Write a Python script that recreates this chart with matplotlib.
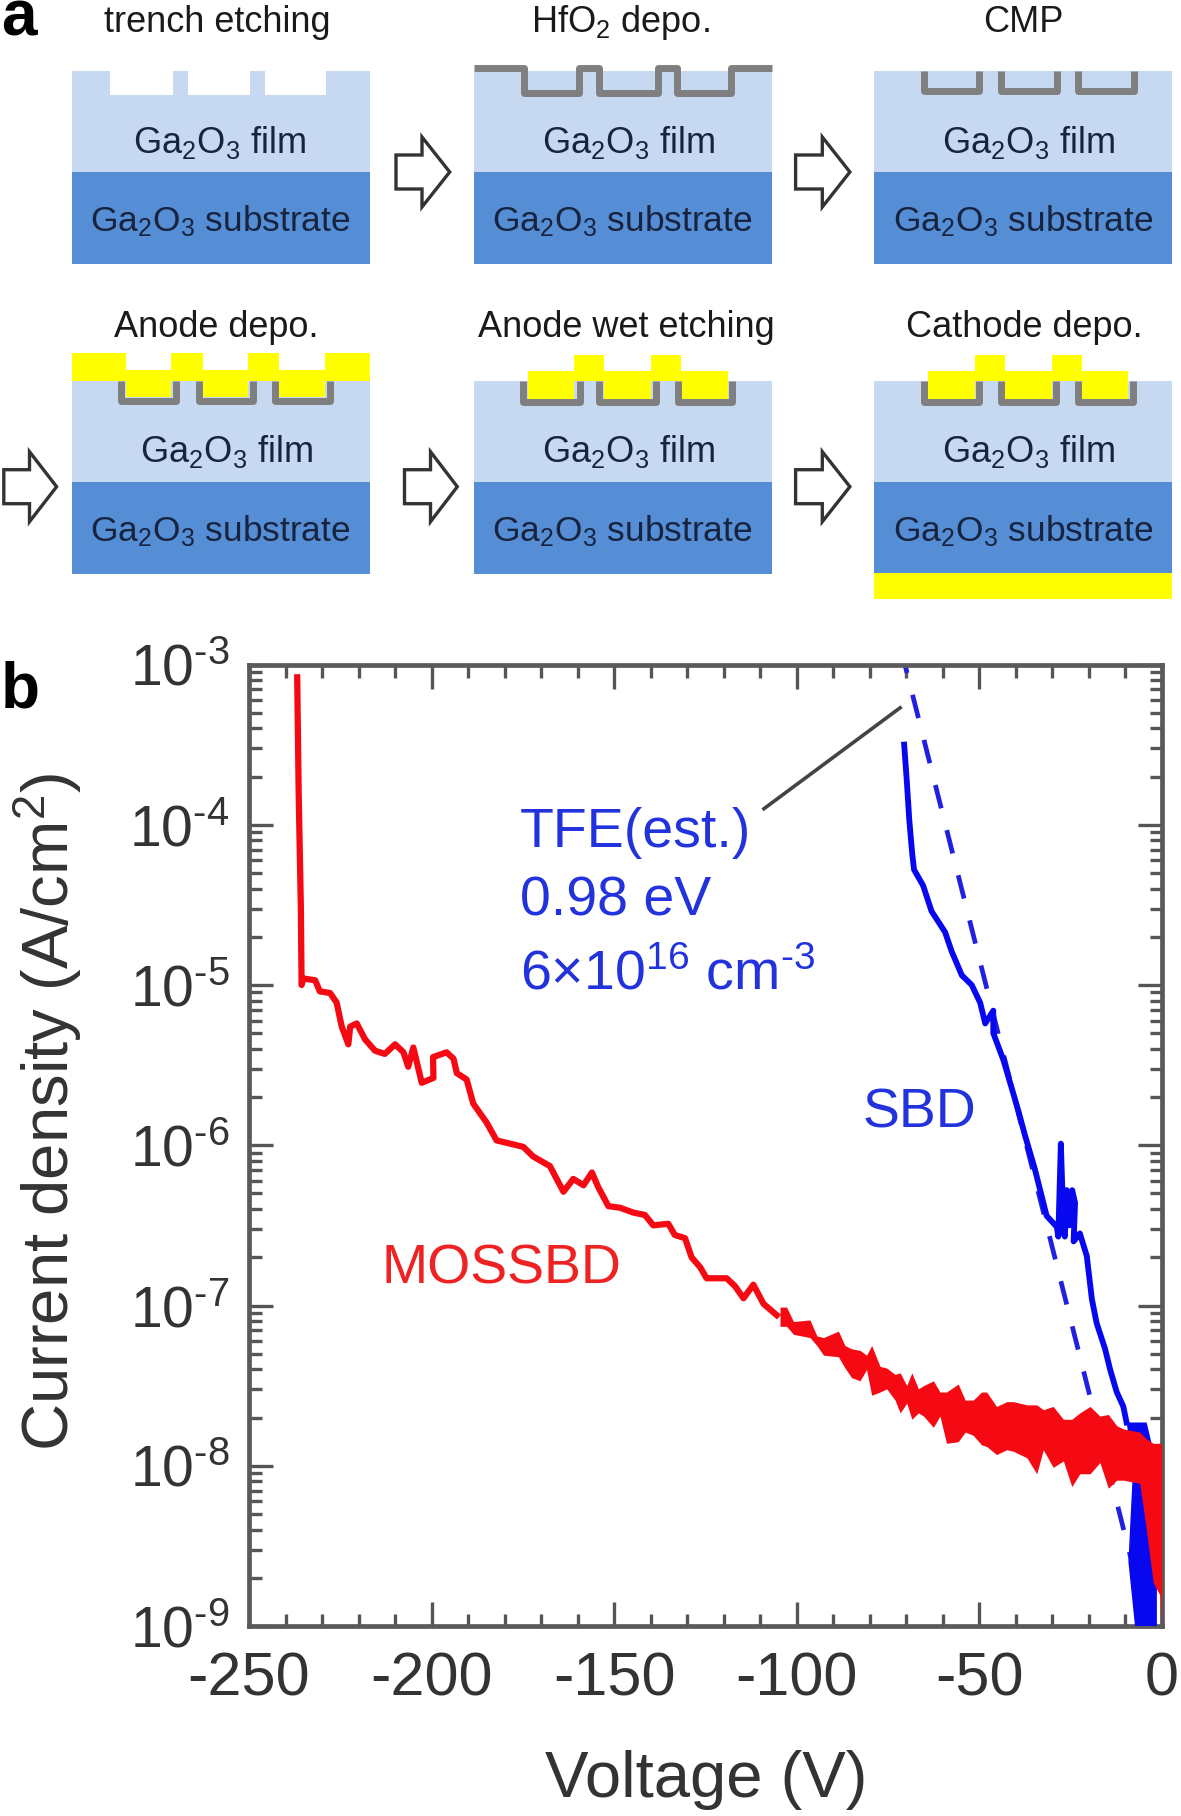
import matplotlib
matplotlib.use("Agg")
import matplotlib.pyplot as plt
import matplotlib.ticker as mticker
from matplotlib.patches import Polygon, Rectangle
import numpy as np

plt.rcParams["font.family"] = ["Liberation Sans", "DejaVu Sans"]
plt.rcParams["mathtext.fontset"] = "custom"
plt.rcParams["mathtext.rm"] = "Liberation Sans"
plt.rcParams["mathtext.default"] = "regular"
plt.rcParams["axes.unicode_minus"] = False
plt.rcParams["lines.scale_dashes"] = False

# panel b, voltage in V and log10 of current density in A/cm2
red_v = [-236.8, -236.4, -235.8, -235.6, -235.1, -231.9, -230.6, -227.8, -226.0, -224.6,
         -222.8, -222.3, -220.5, -218.2, -215.5, -212.8, -210.0, -207.7, -206.4, -205.0,
         -202.7, -199.5, -199.6, -195.9, -194.0, -193.1, -190.4, -188.6, -184.9, -182.2,
         -177.6, -174.9, -172.2, -167.6, -163.9, -161.2, -158.4, -156.1, -154.4, -151.6,
         -148.4, -144.8, -141.6, -139.3, -135.2, -133.4, -130.6, -128.8, -126.5, -124.7,
         -119.2, -116.9, -114.6, -111.9, -109.1, -105.5]
red_log_j = [-3.08, -3.80, -4.52, -5.00, -4.96, -4.97, -5.04, -5.05, -5.11, -5.26,
             -5.37, -5.26, -5.24, -5.34, -5.41, -5.43, -5.37, -5.42, -5.51, -5.39,
             -5.61, -5.58, -5.45, -5.42, -5.46, -5.55, -5.59, -5.74, -5.86, -5.97,
             -5.995, -6.01, -6.07, -6.13, -6.29, -6.21, -6.25, -6.17, -6.26, -6.38,
             -6.39, -6.42, -6.435, -6.50, -6.49, -6.56, -6.58, -6.70, -6.76, -6.83,
             -6.83, -6.88, -6.955, -6.87, -6.99, -7.06]

# noisy low-voltage part of the red curve, read as top and bottom of the band
band_v = [-104.6, -102.8, -100.9, -96.4, -94.5, -92.7, -88.6, -86.8, -85.0, -82.7,
          -80.9, -79.5, -77.2, -75.4, -73.1, -71.7, -69.9, -68.5, -66.7, -65.3,
          -62.6, -60.8, -59.0, -55.8, -53.9, -51.7, -49.4, -48.0, -45.3, -42.5,
          -40.7, -37.0, -34.3, -32.5, -29.8, -27.0, -24.7, -22.5, -19.7, -17.0,
          -14.7, -12.4, -10.6, -6.1, -4.4, -2.4, -0.5, -0.1]
band_top = [-7.01, -7.01, -7.10, -7.09, -7.19, -7.20, -7.16, -7.25, -7.27, -7.28,
            -7.31, -7.25, -7.38, -7.39, -7.43, -7.42, -7.50, -7.42, -7.52, -7.50,
            -7.47, -7.54, -7.54, -7.49, -7.59, -7.59, -7.54, -7.54, -7.63, -7.60,
            -7.60, -7.62, -7.62, -7.65, -7.63, -7.71, -7.71, -7.67, -7.63, -7.69,
            -7.68, -7.75, -7.77, -7.79, -7.83, -7.86, -7.86, -7.87]
band_bottom = [-7.13, -7.13, -7.18, -7.20, -7.25, -7.31, -7.32, -7.39, -7.45, -7.47,
               -7.40, -7.56, -7.54, -7.52, -7.59, -7.67, -7.61, -7.71, -7.67, -7.69,
               -7.76, -7.69, -7.86, -7.85, -7.79, -7.81, -7.87, -7.88, -7.93, -7.90,
               -7.91, -7.95, -8.05, -7.90, -8.01, -7.97, -8.13, -8.05, -8.05, -7.98,
               -8.14, -8.09, -8.09, -8.11, -8.38, -8.73, -8.81, -8.98]

blue_v = [-70.6, -69.9, -69.2, -68.4, -67.9, -65.4, -63.1, -59.4, -57.6, -54.8,
          -52.1, -49.8, -48.4, -46.2, -46.2, -43.4, -42.1, -39.4, -37.5, -34.8,
          -31.6, -28.8, -28.4, -27.7, -26.9, -26.6, -26.1, -25.4, -24.6, -23.8,
          -24.2, -22.5, -20.6, -19.2, -17.9, -15.6, -14.2, -12.4, -10.6, -9.7]
blue_log_j = [-3.50, -3.72, -3.97, -4.18, -4.28, -4.38, -4.54, -4.67, -4.79, -4.94,
              -5.00, -5.11, -5.24, -5.16, -5.30, -5.47, -5.57, -5.78, -5.94, -6.15,
              -6.44, -6.51, -6.57, -5.99, -6.55, -6.57, -6.28, -6.50, -6.28, -6.36,
              -6.60, -6.55, -6.69, -6.96, -7.11, -7.27, -7.40, -7.54, -7.63, -7.73]
blue_band_v = [-9.7, -4.2, -1.4, -1.4, -7.4, -9.2, -7.9]
blue_band_log_j = [-7.73, -7.73, -8.0, -9.0, -9.0, -8.6, -8.0]

tfe_v = [-70.4, -6.6]
tfe_log_j = [-3.0, -8.75]
leader_v = [-71.7, -109.0]
leader_log_j = [-3.27, -3.90]

x_ticks = [-250, -200, -150, -100, -50, 0]
x_tick_labels = ["-250", "-200", "-150", "-100", "-50", "0"]
y_ticks = [1e-9, 1e-8, 1e-7, 1e-6, 1e-5, 1e-4, 1e-3]
y_tick_labels = [r"$10^{\text{-9}}$", r"$10^{\text{-8}}$", r"$10^{\text{-7}}$", r"$10^{\text{-6}}$",
                 r"$10^{\text{-5}}$", r"$10^{\text{-4}}$", r"$10^{\text{-3}}$"]

# panel a, everything below is in image pixels
FILM = "#c6d9f0"
SUBSTRATE = "#558ed5"
HFO2 = "#7f7f7f"
ANODE = "#ffff00"
LABEL = "#17233f"

col_left = [71.6, 473.8, 873.8]
col_width = 298.0
row1_y = (70.7, 171.7, 264.3)
row2_y = (381.0, 482.0, 574.3)

fig = plt.figure(figsize=(11.81, 18.16), dpi=100)
bg = fig.add_axes([0, 0, 1, 1])
bg.set_xlim(0, 1181)
bg.set_ylim(1816, 0)
bg.axis("off")


def block(x0, ys):
    top, mid, bottom = ys
    bg.add_patch(Rectangle((x0, top), col_width, mid - top, fc=FILM, ec="none"))
    bg.add_patch(Rectangle((x0, mid), col_width, bottom - mid, fc=SUBSTRATE, ec="none"))


def layer_text(x_film, x_sub, y_film, y_sub):
    bg.text(x_film, y_film, r"Ga$_{2}$O$_{3}$ film", fontsize=26, color=LABEL, ha="center", va="baseline")
    bg.text(x_sub, y_sub, r"Ga$_{2}$O$_{3}$ substrate", fontsize=25.5, color=LABEL, ha="center", va="baseline")


def arrow(x0, x_base, x_tip, yc):
    pts = [(x0, yc - 17), (x_base, yc - 17), (x_base, yc - 35), (x_tip, yc),
           (x_base, yc + 35), (x_base, yc + 17), (x0, yc + 17)]
    bg.add_patch(Polygon(pts, closed=True, fc="white", ec="#333333", lw=2.4, joinstyle="miter"))


def liner(pairs, top, bottom):
    for left, right in pairs:
        bg.plot([left, left, right, right], [top, bottom, bottom, top], color=HFO2, lw=5, solid_joinstyle="round",
                solid_capstyle="butt")


for x0 in col_left:
    block(x0, row1_y)
    block(x0, row2_y)

# trench etching
for left, right in [(110, 173.4), (187.5, 249.5), (265, 326)]:
    bg.add_patch(Rectangle((left, 70), right - left, 25, fc="white", ec="none"))

# HfO2 depo.
bg.plot([473.8, 524.4, 524.4, 578.6, 578.6, 599.3, 599.3, 657.7, 657.7, 677, 677, 731.3, 731.3, 771.8],
        [67.5, 67.5, 92.5, 92.5, 67.5, 67.5, 92.5, 92.5, 67.5, 67.5, 92.5, 92.5, 67.5, 67.5],
        color=HFO2, lw=5, solid_joinstyle="round", solid_capstyle="butt")

# CMP
liner([(923.5, 978.6), (1001, 1056.8), (1078.4, 1133.6)], 70.7, 91)

# Anode depo.
bg.add_patch(Rectangle((71.6, 353.3), col_width, 27.7, fc=ANODE, ec="none"))
for left, right in [(126.3, 171), (202.8, 248), (279.4, 325.3)]:
    bg.add_patch(Rectangle((left, 353), right - left, 17, fc="white", ec="none"))
    bg.add_patch(Rectangle((left, 380), right - left, 17, fc=ANODE, ec="none"))
liner([(121.3, 176), (198.6, 252.6), (275.2, 329.9)], 381, 400.7)

# Anode wet etching
for left, right in [(527.6, 574), (604, 650.8), (680.7, 727.6)]:
    bg.add_patch(Rectangle((left, 380), right - left, 19, fc=ANODE, ec="none"))
liner([(523.4, 579.5), (599.3, 656.3), (677.5, 732.2)], 381, 402)
bg.add_patch(Rectangle((527.6, 370.7), 200, 10.5, fc=ANODE, ec="none"))
for left, right in [(574, 604), (650.8, 680.7)]:
    bg.add_patch(Rectangle((left, 355), right - left, 26, fc=ANODE, ec="none"))

# Cathode depo.
for left, right in [(928, 975), (1004.8, 1051.7), (1081.6, 1128)]:
    bg.add_patch(Rectangle((left, 380), right - left, 19, fc=ANODE, ec="none"))
liner([(923.5, 978.6), (1001, 1056.3), (1078.4, 1132.6)], 381, 402)
bg.add_patch(Rectangle((928, 370.7), 200, 10.5, fc=ANODE, ec="none"))
for left, right in [(975, 1004.8), (1051.7, 1081.6)]:
    bg.add_patch(Rectangle((left, 355), right - left, 26, fc=ANODE, ec="none"))
bg.add_patch(Rectangle((873.8, 573), col_width, 26, fc=ANODE, ec="none"))

layer_text(219, 220, 153, 231.7)
layer_text(628, 622, 153, 231.7)
layer_text(1028.8, 1023.7, 153, 231.7)
layer_text(226.3, 220, 462, 541.7)
layer_text(628, 622, 462, 541.7)
layer_text(1028.8, 1023.7, 462, 541.7)

arrow(396, 422, 449.7, 172)
arrow(795.6, 822.3, 849.9, 172)
arrow(3.8, 29.5, 56.6, 486.7)
arrow(404.5, 430.5, 457.3, 486.7)
arrow(795.6, 822.3, 849.9, 486.7)

for x, y, s in [(217, 32, "trench etching"), (620, 32, r"HfO$_{2}$ depo."), (1023.7, 32, "CMP"),
                (216, 336.7, "Anode depo."), (626.7, 336.7, "Anode wet etching"), (1024.6, 336.7, "Cathode depo.")]:
    bg.text(x, y, s, fontsize=26, color="#1a1a1a", ha="center", va="baseline")

bg.text(1, 35, "a", fontsize=46, fontweight="bold", color="black", ha="left", va="baseline")
bg.text(1, 707, "b", fontsize=46, fontweight="bold", color="black", ha="left", va="baseline")

# panel b
ax = fig.add_axes([249 / 1181, 1 - 1626 / 1816, 913 / 1181, (1626 - 664.5) / 1816])
ax.patch.set_alpha(0)

ax.plot(tfe_v, 10.0 ** np.array(tfe_log_j), color="#2020e0", lw=3.4, linestyle=(11, (17.3, 16.2)),
        dash_capstyle="butt", zorder=2)
ax.plot(blue_v, 10.0 ** np.array(blue_log_j), color="#0808f0", lw=4.2, zorder=3)
ax.fill(blue_band_v, 10.0 ** np.array(blue_band_log_j), color="#0808f0", lw=0, zorder=3)
ax.plot(leader_v, 10.0 ** np.array(leader_log_j), color="#444444", lw=2.6, zorder=3)
ax.plot(red_v, 10.0 ** np.array(red_log_j), color="#f50a14", lw=4.5, zorder=4)
ax.fill_between(band_v, 10.0 ** np.array(band_bottom), 10.0 ** np.array(band_top), color="#f50a14", lw=0, zorder=4)

ax.set_xscale("linear")
ax.set_yscale("log")
ax.set_xlim(-250, 0)
ax.set_ylim(1e-9, 1e-3)
ax.set_xticks(x_ticks)
ax.set_xticklabels(x_tick_labels)
ax.xaxis.set_minor_locator(mticker.MultipleLocator(10))
ax.set_yticks(y_ticks)
ax.set_yticklabels(y_tick_labels)
ax.yaxis.set_minor_locator(mticker.LogLocator(base=10, subs=np.arange(2, 10), numticks=20))
ax.yaxis.set_minor_formatter(mticker.NullFormatter())
ax.tick_params(which="major", direction="in", top=True, right=True, length=17, width=2.4, color="#555555",
               labelsize=44, labelcolor="#333333")
ax.tick_params(which="minor", direction="in", top=True, right=True, length=9, width=2.4, color="#555555")
ax.tick_params(axis="x", which="major", pad=18.5)
ax.tick_params(axis="y", which="major", pad=14, labelsize=41)
for spine in ax.spines.values():
    spine.set_linewidth(3.4)
    spine.set_color("#5a5a5a")

ax.text(-175.8, 10 ** -4.137, "TFE(est.)", fontsize=40, color="#2233dd", va="baseline")
ax.text(-175.8, 10 ** -4.567, "0.98 eV", fontsize=40, color="#2233dd", va="baseline")
ax.text(-175.8, 10 ** -5.03, r"6$\times$10$^{16}$ cm$^{\text{-3}}$", fontsize=40, color="#2233dd", va="baseline")
ax.text(-81.9, 10 ** -5.89, "SBD", fontsize=40, color="#2233dd", va="baseline")
ax.text(-213.6, 10 ** -6.86, "MOSSBD", fontsize=40, color="#ee2222", va="baseline")

bg.text(706, 1797, "Voltage (V)", fontsize=47, color="#333333", ha="center", va="baseline")
bg.text(48, 1112, r"Current density (A/cm$^{2}$)", fontsize=47, color="#333333", rotation=90, ha="center", va="center")

fig.savefig("out.png", dpi=100)
plt.close(fig)
